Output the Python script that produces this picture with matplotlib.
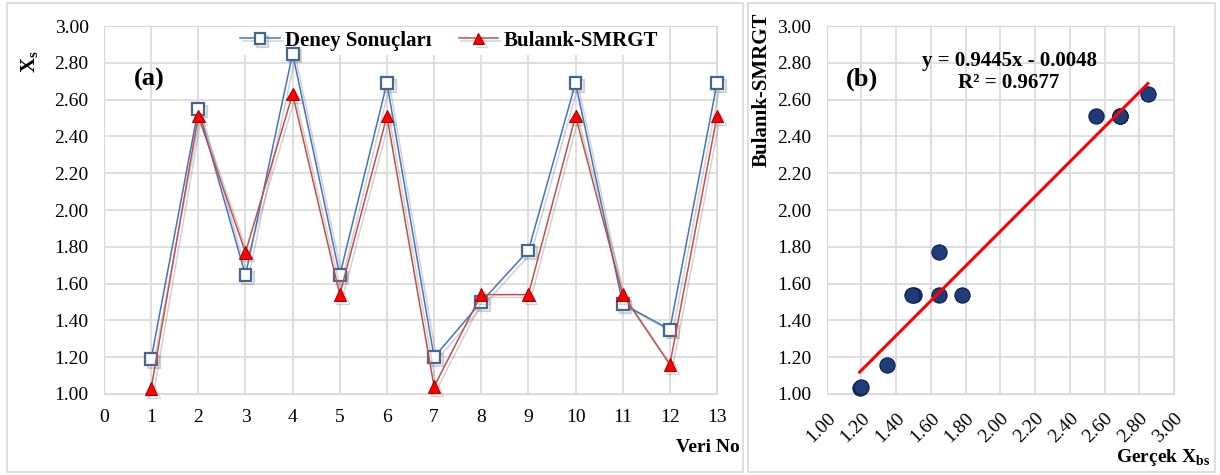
import numpy as np
import matplotlib
matplotlib.use("Agg")
import matplotlib.pyplot as plt
import matplotlib.patheffects as pe
from matplotlib.patches import Rectangle

plt.rcParams['font.family'] = ['Liberation Serif', 'DejaVu Serif']

# veriler
veri_no = [1, 2, 3, 4, 5, 6, 7, 8, 9, 10, 11, 12, 13]
deney = [1.19, 2.55, 1.645, 2.85, 1.645, 2.69, 1.20, 1.50, 1.78, 2.69, 1.49, 1.35, 2.69]
bulanik = [1.03, 2.51, 1.77, 2.63, 1.54, 2.51, 1.04, 1.54, 1.54, 2.51, 1.54, 1.16, 2.51]
egim, kesim, r2 = 0.9445, -0.0048, 0.9677

grid_col = '#d9d9d9'
fig = plt.figure(figsize=(12.2, 4.75), dpi=100)

# panel kutulari
for x0, w in [(7, 736), (748, 467)]:
    fig.add_artist(Rectangle((x0 / 1220, 3 / 475), w / 1220, 469 / 475,
                             transform=fig.transFigure, fill=False,
                             edgecolor=grid_col, lw=1.2))

shadow = [pe.SimpleLineShadow(offset=(2, -2), shadow_color='gray', alpha=0.35), pe.Normal()]

# (a) panel
ax1 = fig.add_axes([104 / 1220, 1 - 394 / 475, 613 / 1220, 368 / 475])
ax1.plot(veri_no, deney, color='#4472C4', lw=1.1, marker='s', ms=8.5,
         mfc='white', mec='#44678f', mew=1.6, label='Deney Sonuçları',
         path_effects=shadow, clip_on=False, zorder=3)
ax1.plot(veri_no, bulanik, color='#C0504D', lw=1.1, marker='^', ms=9,
         mfc='#ff0000', mec='#b00000', mew=0.8, label='Bulanık-SMRGT',
         path_effects=shadow, clip_on=False, zorder=3)
ax1.set_xlim(0, 13)
ax1.set_ylim(1.0, 3.0)
ax1.set_xticks(range(0, 14))
ax1.set_yticks(np.arange(1.0, 3.01, 0.2))
ax1.set_yticklabels([f'{v:.2f}' for v in np.arange(1.0, 3.01, 0.2)])
ax1.grid(True, color=grid_col, lw=1.2)
ax1.set_axisbelow(True)
for s in ax1.spines.values():
    s.set_color(grid_col)
ax1.tick_params(length=0, labelsize=14, pad=11)
leg = ax1.legend(loc='center left', bbox_to_anchor=((236 - 104) / 613, 0.96),
                 ncol=2, frameon=True, framealpha=1, edgecolor='none',
                 prop={'weight': 'bold', 'size': 15}, handlelength=1.9,
                 handletextpad=0.25, columnspacing=1.3, borderpad=0.2,
                 borderaxespad=0, markerscale=0.9)
leg.set_zorder(2.5)
ax1.text(0.048, 0.855, '(a)', transform=ax1.transAxes, fontsize=19,
         fontweight='bold', va='center')
fig.text(30 / 1220, 1 - 62 / 475, r'X$_\mathregular{s}$', rotation=90,
         fontsize=15, fontweight='bold', ha='center', va='center')
fig.text(740 / 1220, 1 - 448 / 475, 'Veri No', fontsize=14,
         fontweight='bold', ha='right', va='center')

# (b) panel
ax2 = fig.add_axes([826.7 / 1220, 1 - 394 / 475, 347.3 / 1220, 368 / 475])
ax2.scatter(deney, bulanik, s=120, color='#1F3B7A', edgecolor='#0f1f4a',
            lw=0.8, zorder=3, clip_on=False)
xl = np.array([min(deney), max(deney)])
ax2.plot(xl, egim * xl + kesim, color='#ff0000', lw=2.2, zorder=4)
ax2.set_xlim(1.0, 3.0)
ax2.set_ylim(1.0, 3.0)
ticks = np.arange(1.0, 3.01, 0.2)
ax2.set_xticks(ticks)
ax2.set_yticks(ticks)
ax2.set_xticklabels([f'{v:.2f}' for v in ticks], rotation=45, ha='right',
                    va='top', rotation_mode='anchor')
ax2.set_yticklabels([f'{v:.2f}' for v in ticks])
ax2.grid(True, color=grid_col, lw=1.2)
ax2.set_axisbelow(True)
for s in ax2.spines.values():
    s.set_color(grid_col)
ax2.tick_params(length=0, labelsize=14, pad=11)
ax2.text(0.525, 0.875, f'y = {egim}x - {abs(kesim)}\nR² = {r2}',
         transform=ax2.transAxes, fontsize=15, fontweight='bold',
         ha='center', va='center', linespacing=1.15)
ax2.text(0.055, 0.855, '(b)', transform=ax2.transAxes, fontsize=19,
         fontweight='bold', va='center')
fig.text(762 / 1220, 1 - 90 / 475, 'Bulanık-SMRGT', rotation=90,
         fontsize=15, fontweight='bold', ha='center', va='center')
fig.text(1210 / 1220, 1 - 457 / 475, r'Gerçek X$_\mathregular{bs}$',
         fontsize=14, fontweight='bold', ha='right', va='center')

fig.savefig('out.png', dpi=100)
